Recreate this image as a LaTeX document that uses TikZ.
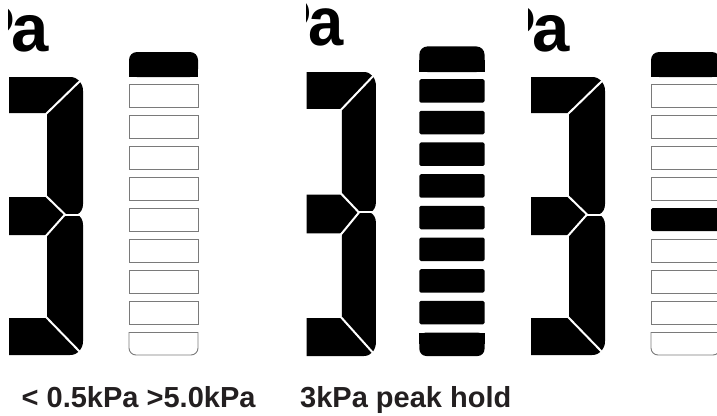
\documentclass[tikz,border=0pt]{standalone}
\usepackage{fontspec}
\setmainfont{Liberation Sans}
\definecolor{txt}{HTML}{231F20}
\definecolor{framegray}{HTML}{7A7A7A}
\tikzset{
  seg/.style={fill=black, draw=none},
  cut/.style={draw=white, line width=2pt},
  cell/.style={draw=framegray, line width=0.9pt, line cap=square},
  litcell/.style={fill=black, rounded corners=1.5pt},
  unitlbl/.style={font=\bfseries\fontsize{67}{67}\selectfont, inner sep=0pt, anchor=base east, transform shape},
  caption/.style={font=\bfseries\fontsize{29}{29}\selectfont, text=txt, inner sep=0pt, anchor=base west},
}
% the seven-segment "3"
\newcommand\digitthree{%
  \fill[seg] (9,77) -- (70,77) .. controls (78,77) and (83,83) .. (83,91)
    -- (83,204) .. controls (83,209) and (81,212.5) .. (77,214.5)
    .. controls (81,216.5) and (83,220) .. (83,225)
    -- (83,341) .. controls (83,349) and (78,355) .. (70,355)
    -- (9,355) -- (9,318) -- (47,318) -- (47,235) -- (9,235) -- (9,197)
    -- (47,197) -- (47,113) -- (9,113) -- cycle;
  \draw[cut] (46,114) -- (81,80);
  \draw[cut] (45,195) -- (65,214.5) -- (45,237);
  \draw[cut] (65,214.5) -- (85,214.5);
  \draw[cut] (46,317) -- (80,352);
}
% top block of the bar (always lit)
\newcommand\bartop{%
  \fill[rounded corners=8pt] (129,52) rectangle (198,77);
  \fill (129,65) rectangle (198,77);
}
% outlined / lit cell i (1..8)
\newcommand\cellopen[1]{%
  \draw[cell] (129,{84+31*(#1-1)}) rectangle (198,{107+31*(#1-1)});
}
\newcommand\celllit[1]{%
  \fill[litcell] (129,{84+31*(#1-1)}) rectangle (198,{107+31*(#1-1)});
}
\newcommand\bottomopen{%
  \draw[cell, rounded corners=7pt] (129,332) -- (129,355) -- (198,355) -- (198,332);
  \draw[cell] (129,332) -- (198,332);
}
\newcommand\bottomlit{%
  \fill[rounded corners=7pt] (129,332) rectangle (198,355);
  \fill (129,332) rectangle (198,343);
}
\begin{document}
\begin{tikzpicture}[x=1pt, y=-1pt]
\useasboundingbox (0,0) rectangle (717,415);
% ---------- panel 1 ----------
\begin{scope}
  \clip (8,0) rectangle (290,370);
  \node[unitlbl] (unitA) at (49,51.5) {P\kern-3.5pt a};
  \digitthree
  \bartop
  \foreach \i in {1,...,8} {\cellopen{\i}}
  \bottomopen
\end{scope}
% ---------- panel 2 ----------
\begin{scope}[shift={(297.6,-6.66)}, xscale=0.944, yscale=1.0216]
  \clip (9.5,0) rectangle (220,370);
  \node[unitlbl] (unitB) at (49,51.5) {P\kern-3.5pt a};
  \digitthree
  \bartop
  \foreach \i in {1,...,8} {\celllit{\i}}
  \bottomlit
\end{scope}
% ---------- panel 3 ----------
\begin{scope}[shift={(521,0)}]
  \clip (7,0) rectangle (196,370);
  \node[unitlbl] (unitC) at (49,51.5) {P\kern-3.5pt a};
  \begin{scope}[xshift=1pt]
    \digitthree
    \bartop
    \foreach \i in {1,2,3,4,6,7,8} {\cellopen{\i}}
    \celllit{5}
    \bottomopen
  \end{scope}
\end{scope}
% ---------- captions ----------
\node[caption] (capA) at (21.5,407) {< 0.5kPa >5.0kPa};
\node[caption] (capB) at (300,407) {3kPa peak hold};
\end{tikzpicture}
\end{document}
